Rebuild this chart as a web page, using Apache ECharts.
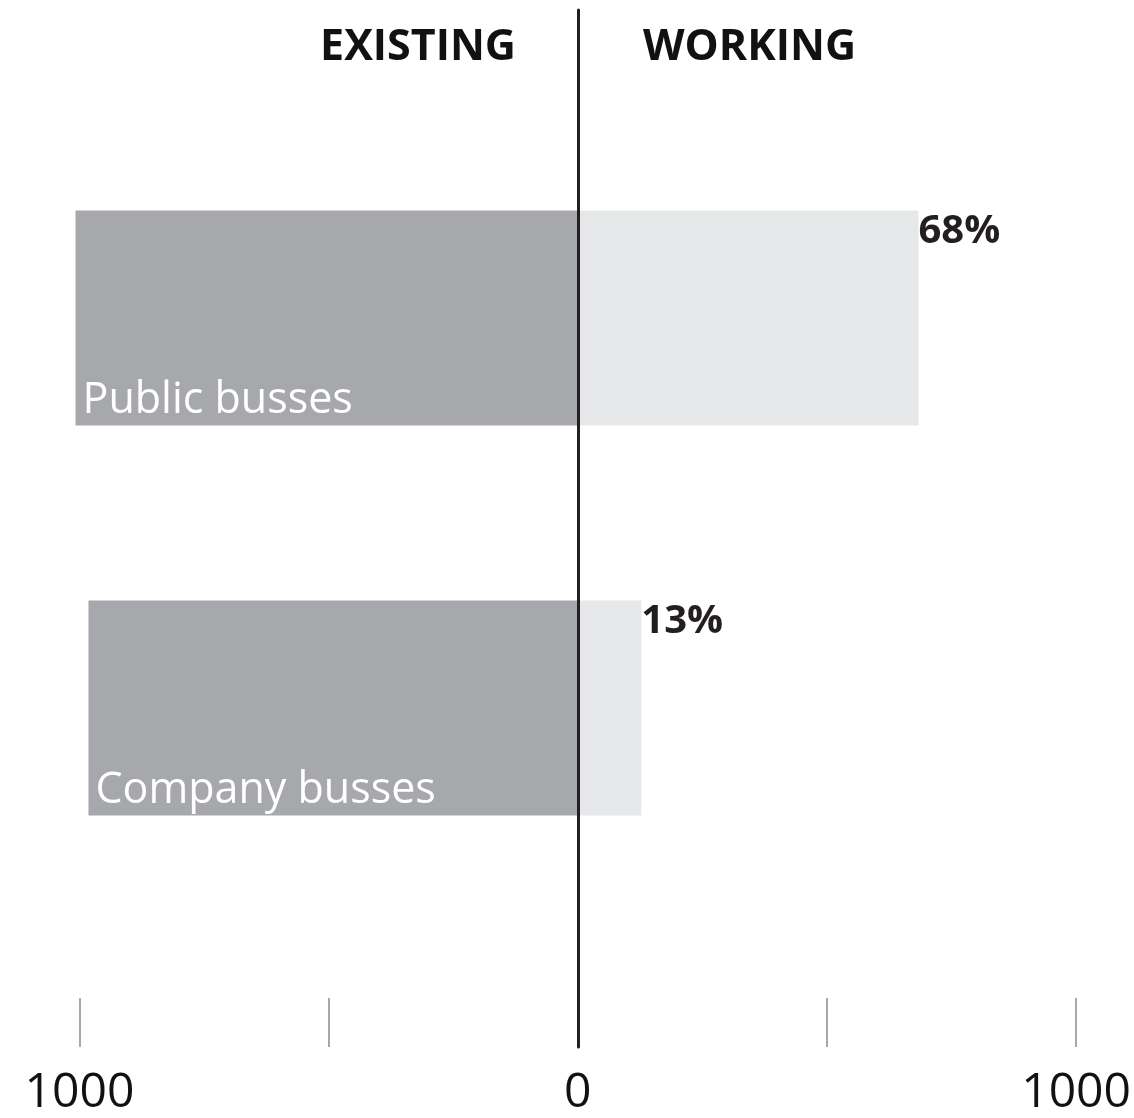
<!DOCTYPE html>
<html>
<head>
<meta charset="utf-8">
<script src="https://cdn.jsdelivr.net/npm/echarts@6/dist/echarts.min.js"></script>
<style>
  html, body { margin: 0; padding: 0; background: #ffffff; }
  #chart { width: 1134px; height: 1118px; }
</style>
</head>
<body>
<div id="chart"></div>
<script>
// ---- data ----
const categories = ['Public busses', 'Company busses'];
const existing = [1008, 982];
const working = [683, 127];
const shareLabels = ['68%', '13%'];
const headings = ['EXISTING', 'WORKING'];
const tickValues = [-1000, -500, 0, 500, 1000];
const tickLabels = ['1000', '', '0', '', '1000'];

const FONT = '"Open Sans", "Noto Sans", sans-serif';
const chart = echarts.init(document.getElementById('chart'), null, { renderer: 'canvas' });

const gridLeft = 79.5, gridRight = 1134 - 1076.5;

const option = {
  backgroundColor: '#ffffff',
  animation: false,
  title: [
    { text: headings[0], right: 613, top: 21,
      textStyle: { fontFamily: FONT, fontWeight: 'bold', fontSize: 43, color: '#111111' } },
    { text: headings[1], left: 638, top: 21,
      textStyle: { fontFamily: FONT, fontWeight: 'bold', fontSize: 43, color: '#111111' } }
  ],
  grid: [
    { left: gridLeft, right: gridRight, top: 123, bottom: 215 },
    { left: gridLeft, right: gridRight, top: 10, bottom: 71 }
  ],
  xAxis: [
    { type: 'value', gridIndex: 0, min: -1000, max: 1000, interval: 500, show: false },
    { type: 'value', gridIndex: 1, min: -1000, max: 1000, interval: 500,
      axisLine: { show: false },
      axisTick: { show: true, inside: true, length: 49, lineStyle: { color: '#8c8c8c', width: 1.5 } },
      splitLine: { show: false },
      axisLabel: {
        margin: 22, fontFamily: FONT, fontSize: 48, color: '#111111',
        formatter: v => { const i = tickValues.indexOf(v); return i >= 0 ? tickLabels[i] : ''; }
      }
    }
  ],
  yAxis: [
    { type: 'category', gridIndex: 0, data: categories, inverse: true, show: false },
    { type: 'value', gridIndex: 1, min: 0, max: 1, z: 10,
      axisLine: { show: true, onZero: true, lineStyle: { color: '#231f20', width: 3 } },
      axisTick: { show: false }, axisLabel: { show: false }, splitLine: { show: false } }
  ],
  series: [
    {
      name: headings[0], type: 'bar', xAxisIndex: 0, yAxisIndex: 0,
      data: existing.map(v => -v), barWidth: 215, barGap: '-100%', clip: false,
      itemStyle: { color: '#a7a8ab' },
      label: {
        show: true, position: ['0%', '100%'], align: 'left', verticalAlign: 'bottom',
        offset: [7, -3], formatter: p => categories[p.dataIndex],
        fontFamily: FONT, fontSize: 43, color: '#ffffff'
      }
    },
    {
      name: headings[1], type: 'bar', xAxisIndex: 0, yAxisIndex: 0,
      data: working, barWidth: 215, barGap: '-100%', clip: false,
      itemStyle: { color: '#e6e7e8' },
      label: {
        show: true, position: ['100%', '0%'], align: 'left', verticalAlign: 'top',
        offset: [0, 1], formatter: p => shareLabels[p.dataIndex],
        fontFamily: FONT, fontWeight: 'bold', fontSize: 40, color: '#231f20'
      }
    }
  ]
};
chart.setOption(option);
</script>
</body>
</html>
